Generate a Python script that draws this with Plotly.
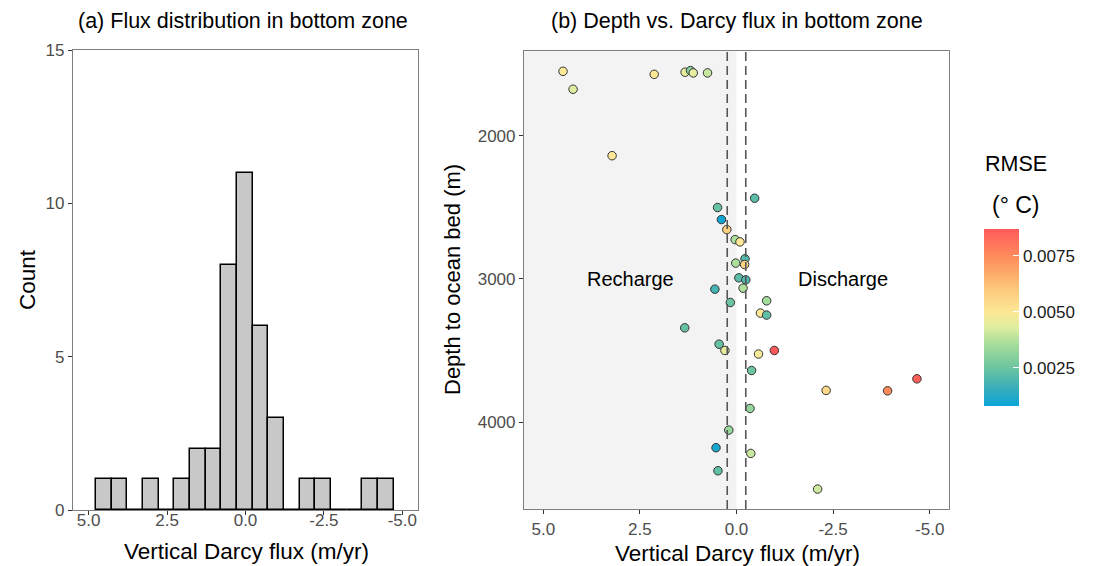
import plotly.graph_objects as go

# ---------------- data ----------------
# (a) histogram of vertical Darcy flux (bin width 0.5 m/yr)
bin_centers = [4.52, 4.02, 3.52, 3.02, 2.52, 2.02, 1.52, 1.02, 0.52, 0.02,
               -0.48, -0.98, -1.48, -1.98, -2.48, -2.98, -3.48, -3.98, -4.48]
bin_counts = [1, 1, 0, 1, 0, 1, 2, 2, 8, 11, 6, 3, 0, 1, 1, 0, 0, 1, 1]
bin_width = 0.5

# (b) depth vs. flux, coloured by RMSE
flux = [4.49, 4.23, 2.13, 1.33, 1.19, 1.12, 0.75, 3.22, -0.47, 0.49,
        0.39, 0.25, 0.035, -0.09, -0.22, 0.02, -0.21, -0.06, -0.24, -0.17,
        0.56, 0.16, -0.78, -0.62, -0.78, 1.34, 0.45, 0.30, -0.57, -0.98,
        -0.39, -0.35, 0.20, 0.53, -0.37, 0.48, -2.32, -3.91, -4.67, -2.10]
depth = [1551, 1676, 1572, 1557, 1546, 1562, 1562, 2140, 2437, 2502,
         2586, 2656, 2726, 2742, 2860, 2890, 2900, 2993, 3007, 3065,
         3072, 3165, 3153, 3239, 3253, 3342, 3456, 3500, 3525, 3500,
         3640, 3905, 4056, 4179, 4219, 4340, 3779, 3782, 3698, 4468]
rmse = [0.0050, 0.0043, 0.0050, 0.0045, 0.0030, 0.0045, 0.0040, 0.0050, 0.0022, 0.0024,
        0.0009, 0.0058, 0.0036, 0.0050, 0.0021, 0.0036, 0.0056, 0.0022, 0.0020, 0.0037,
        0.0018, 0.0025, 0.0035, 0.0050, 0.0023, 0.0024, 0.0024, 0.0045, 0.0048, 0.0087,
        0.0025, 0.0032, 0.0033, 0.0010, 0.0040, 0.0023, 0.0055, 0.0075, 0.0086, 0.0041]

flux_ticks = [5.0, 2.5, 0.0, -2.5, -5.0]
flux_ticklabels = ["5.0", "2.5", "0.0", "-2.5", "-5.0"]
count_ticks = [0, 5, 10, 15]
depth_ticks = [2000, 3000, 4000]
rmse_ticks = [0.0025, 0.0050, 0.0075]
rmse_ticklabels = ["0.0025", "0.0050", "0.0075"]
threshold = 0.24

# ---------------- figure ----------------
W, H = 1099, 566
FONT = "Liberation Sans, Arial, sans-serif"
GRAY_TXT = "#4D4D4D"
BORDER = "#7F7F7F"

def px_x(p):
    return p / W

def px_y(p):
    return 1 - p / H

colorscale = [
    [0.00, "#0AA5D8"], [0.10, "#38AEBA"], [0.215, "#6CC4A0"], [0.35, "#A8DE9C"],
    [0.45, "#E0EEA0"], [0.53, "#FCE896"], [0.65, "#FDCB7E"], [0.75, "#FDAA68"],
    [0.85, "#FF8A5C"], [1.00, "#FF5A5A"],
]

fig = go.Figure()

fig.add_trace(go.Bar(
    x=bin_centers, y=bin_counts, width=bin_width,
    marker=dict(color="#C8C8C8", line=dict(color="black", width=1.5)),
    xaxis="x", yaxis="y", showlegend=False, hoverinfo="x+y",
))

fig.add_trace(go.Scatter(
    x=flux, y=depth, mode="markers", xaxis="x2", yaxis="y2", showlegend=False,
    marker=dict(
        size=8.5, color=rmse, colorscale=colorscale, cmin=0.0008, cmax=0.0087,
        line=dict(color="#333333", width=1),
        showscale=True,
        colorbar=dict(
            x=px_x(984), xanchor="left", xpad=0, ypad=0,
            y=px_y(317.5), yanchor="middle",
            thickness=35, len=177, lenmode="pixels",
            outlinewidth=0,
            tickvals=rmse_ticks, ticktext=rmse_ticklabels,
            ticks="inside", ticklen=6, tickcolor="white", tickwidth=1,
            tickfont=dict(size=17, color="#1A1A1A", family=FONT),
        ),
    ),
))

axis_common = dict(
    showgrid=False, zeroline=False, showline=True, mirror=True,
    linecolor=BORDER, linewidth=1.2, ticks="outside", ticklen=4,
    tickcolor="#333333", tickwidth=1,
    tickfont=dict(size=17, color=GRAY_TXT, family=FONT),
    automargin=False,
)

fig.update_layout(
    width=W, height=H,
    margin=dict(l=0, r=0, t=0, b=0),
    paper_bgcolor="white", plot_bgcolor="white",
    font=dict(family=FONT, color="black"),
    bargap=0,
    xaxis=dict(axis_common, domain=[px_x(73), px_x(418)], range=[5.5, -5.5],
               tickvals=flux_ticks, ticktext=flux_ticklabels, anchor="y",
               ticklabelstandoff=-10),
    yaxis=dict(axis_common, domain=[px_y(510), px_y(50)], range=[0, 15],
               tickvals=count_ticks, anchor="x"),
    xaxis2=dict(axis_common, domain=[px_x(524), px_x(949)], range=[5.5, -5.5],
                tickvals=flux_ticks, ticktext=flux_ticklabels, anchor="y2"),
    yaxis2=dict(axis_common, domain=[px_y(509), px_y(51)], range=[4607, 1409],
                tickvals=depth_ticks, anchor="x2"),
)

# recharge shading and threshold lines
fig.add_shape(type="rect", xref="x2", yref="y2 domain", x0=5.5, x1=0, y0=0, y1=1,
              fillcolor="#F3F3F3", line=dict(width=0), layer="below")
for t in (threshold, -threshold):
    fig.add_shape(type="line", xref="x2", yref="y2 domain", x0=t, x1=t, y0=0, y1=1,
                  line=dict(color="#555555", width=1.6, dash="9px,5px"), layer="above")

# region labels
fig.add_annotation(x=2.75, y=3000, xref="x2", yref="y2", text="Recharge", showarrow=False,
                   font=dict(size=20, color="black", family=FONT))
fig.add_annotation(x=-2.75, y=3000, xref="x2", yref="y2", text="Discharge", showarrow=False,
                   font=dict(size=20, color="black", family=FONT))

def ann(text, x, y, size, angle=0):
    fig.add_annotation(x=px_x(x), y=px_y(y), xref="paper", yref="paper", text=text,
                       showarrow=False, textangle=angle, xanchor="center", yanchor="middle",
                       font=dict(size=size, color="black", family=FONT))

# titles
ann("(a) Flux distribution in bottom zone", 243, 21, 21.5)
ann("(b) Depth vs. Darcy flux in bottom zone", 737, 21, 21.5)
# axis titles
ann("Vertical Darcy flux (m/yr)", 246, 551, 22.5)
ann("Vertical Darcy flux (m/yr)", 737, 553, 22.5)
ann("Count", 27, 280, 22.5, -90)
ann("Depth to ocean bed (m)", 452, 280, 22, -90)
# colorbar title
ann("RMSE", 1016, 164, 21.5)
ann("(° C)", 1016, 205, 23)

fig.write_html("out.html")
